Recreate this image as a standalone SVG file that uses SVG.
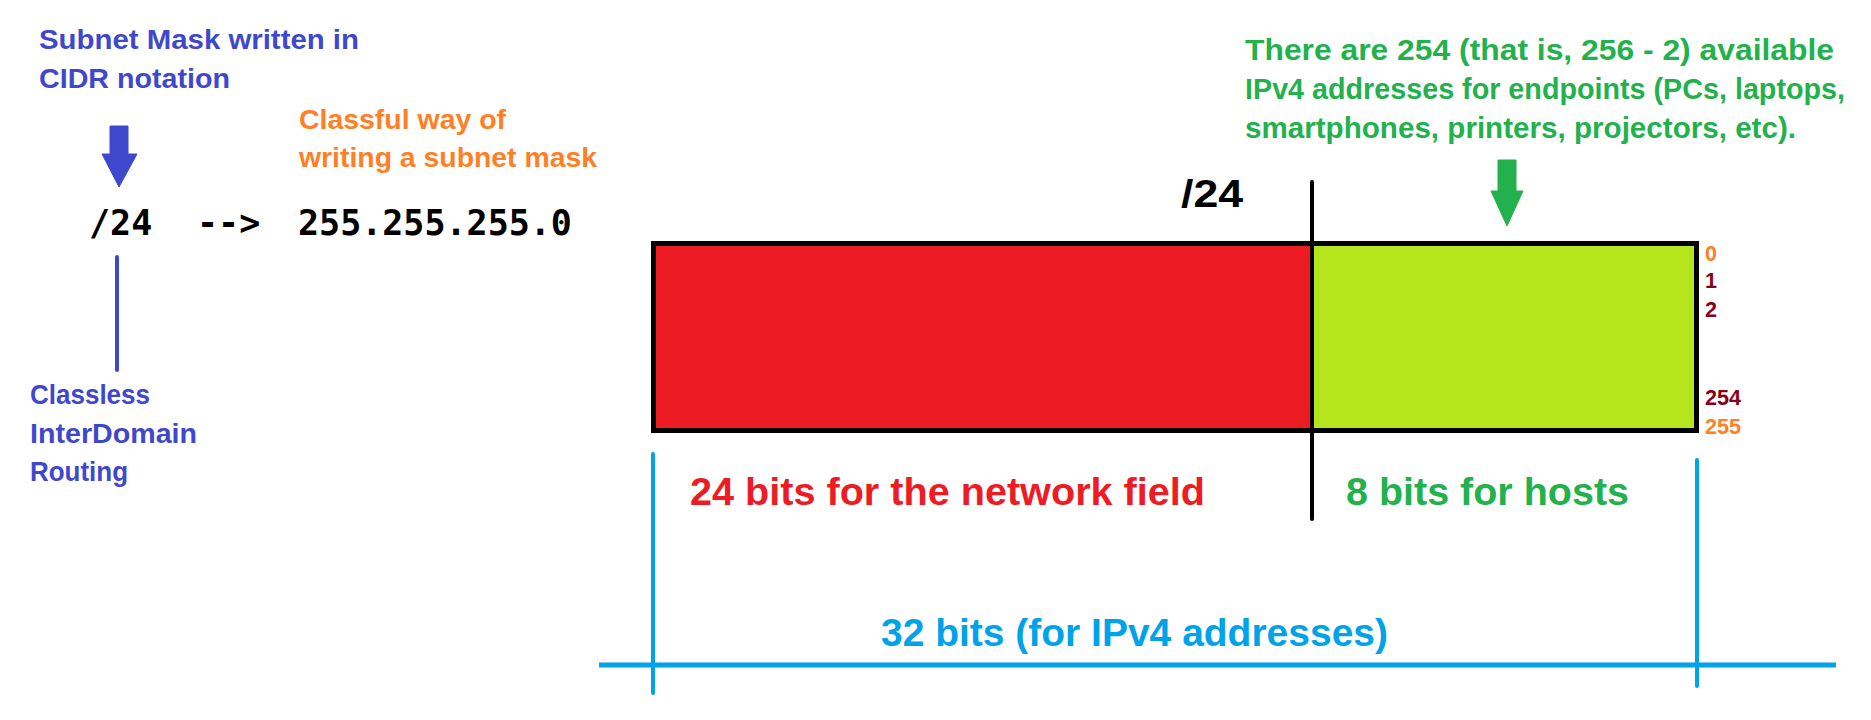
<svg xmlns="http://www.w3.org/2000/svg" width="1871" height="720" viewBox="0 0 1871 720">
<style>
.t{font-family:"Liberation Sans",Arial,sans-serif;font-weight:bold}
.mono{font-family:"DejaVu Sans Mono","Liberation Mono",monospace;font-weight:bold;fill:#000}
.blue{fill:#3F48CC}
.orange{fill:#FF7F27}
.green{fill:#22B14C}
.red{fill:#ED1C24}
.cyan{fill:#00A2E8}
.dred{fill:#880015}
.s28{font-size:28px}
.s30{font-size:29.5px}
.s38{font-size:38px}
.num{font-size:21.5px}
.ln{stroke-linecap:round;fill:none}
</style>
<rect width="1871" height="720" fill="#fff"/>

<g id="cidr-caption">
<text class="t blue s28" x="39" y="49" textLength="320" lengthAdjust="spacingAndGlyphs">Subnet Mask written in</text>
<text class="t blue s28" x="39" y="88" textLength="191" lengthAdjust="spacingAndGlyphs">CIDR notation</text>
</g>
<g id="classful-caption">
<text class="t orange s28" x="299" y="129" textLength="207" lengthAdjust="spacingAndGlyphs">Classful way of</text>
<text class="t orange s28" x="299" y="167" textLength="298" lengthAdjust="spacingAndGlyphs">writing a subnet mask</text>
</g>
<g id="cidr-value">
<text class="mono" x="89" y="235" font-size="35">/24</text>
</g>
<g id="arrow-text">
<text class="mono" x="197" y="235" font-size="35">--&gt;</text>
</g>
<g id="mask-value">
<text class="mono" x="298" y="235" font-size="35">255.255.255.0</text>
</g>
<g id="cidr-expansion">
<text class="t blue s28" x="30" y="404" textLength="120" lengthAdjust="spacingAndGlyphs">Classless</text>
<text class="t blue s28" x="30" y="443" textLength="167" lengthAdjust="spacingAndGlyphs">InterDomain</text>
<text class="t blue s28" x="30" y="481" textLength="98" lengthAdjust="spacingAndGlyphs">Routing</text>
</g>
<g id="hosts-caption">
<text class="t green s30" x="1245" y="60" textLength="589" lengthAdjust="spacingAndGlyphs">There are 254 (that is, 256 - 2) available</text>
<text class="t green s30" x="1245" y="99" textLength="600" lengthAdjust="spacingAndGlyphs">IPv4 addresses for endpoints (PCs, laptops,</text>
<text class="t green s30" x="1245" y="138" textLength="551" lengthAdjust="spacingAndGlyphs">smartphones, printers, projectors, etc).</text>
</g>
<g id="prefix-label">
<text class="t s38" x="1181" y="207" textLength="62" lengthAdjust="spacingAndGlyphs" fill="#000">/24</text>
</g>
<g id="address-bar">
<rect x="653.5" y="243.5" width="658.5" height="187" fill="#ED1C24"/>
<rect x="1312" y="243.5" width="384.5" height="187" fill="#B5E61D"/>
<rect x="653.5" y="243.5" width="1043" height="187" fill="none" stroke="#000" stroke-width="5"/>
</g>
<g id="host-numbers">
<text class="t num orange" x="1705" y="261">0</text>
<text class="t num dred" x="1705" y="288">1</text>
<text class="t num dred" x="1705" y="317">2</text>
<text class="t num dred" x="1705" y="405" textLength="36" lengthAdjust="spacingAndGlyphs">254</text>
<text class="t num orange" x="1705" y="434" textLength="36" lengthAdjust="spacingAndGlyphs">255</text>
</g>
<g id="network-label">
<text class="t s38 red" x="690" y="505" textLength="515" lengthAdjust="spacingAndGlyphs">24 bits for the network field</text>
</g>
<g id="hosts-label">
<text class="t s38 green" x="1346" y="505" textLength="283" lengthAdjust="spacingAndGlyphs">8 bits for hosts</text>
</g>
<g id="total-label">
<text class="t s38 cyan" x="881" y="646" textLength="507" lengthAdjust="spacingAndGlyphs">32 bits (for IPv4 addresses)</text>
</g>

<g id="connectors">
<polygon points="110,126 128,126 128,154 137,154 119,187 102,154 110,154" fill="#3F48CC" stroke="#3F48CC" stroke-width="1" stroke-linejoin="round"/>
<line class="ln" x1="117" y1="257" x2="117" y2="370" stroke="#3F48CC" stroke-width="4"/>
<polygon points="1498,160 1516,160 1516,191 1523,191 1507,226 1491,191 1498,191" fill="#22B14C" stroke="#22B14C" stroke-width="1" stroke-linejoin="round"/>
<line class="ln" x1="1312" y1="182" x2="1312" y2="519" stroke="#000" stroke-width="4"/>
<line class="ln" x1="653" y1="454" x2="653" y2="693" stroke="#00A2E8" stroke-width="4"/>
<line class="ln" x1="1697" y1="460" x2="1697" y2="686" stroke="#00A2E8" stroke-width="4"/>
<line x1="599" y1="665" x2="1836" y2="665" stroke="#00A2E8" stroke-width="5"/>
</g>
</svg>
